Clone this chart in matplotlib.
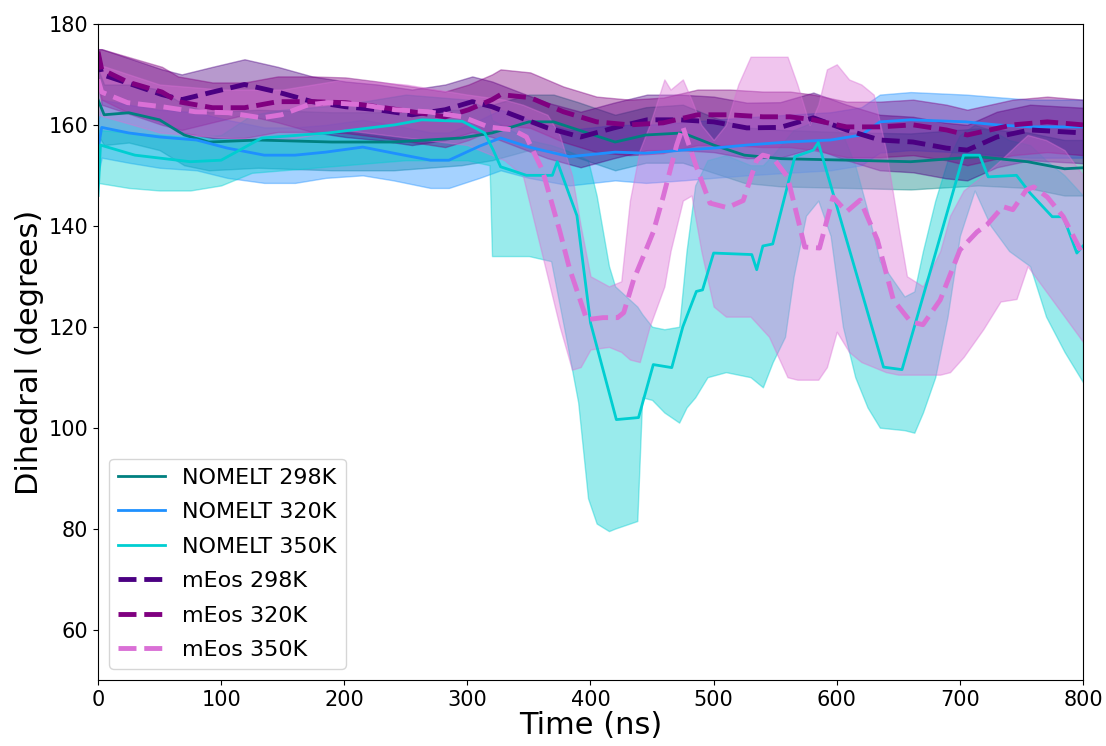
import numpy as np
import matplotlib
matplotlib.use("Agg")
import matplotlib.pyplot as plt

# --- NOMELT 298K ---
t_n298 = [0, 5, 25, 50, 70, 90, 130, 190, 240, 295, 320, 350, 370, 390, 420, 445, 475, 500,
          525, 555, 610, 660, 715, 755, 785, 800]
m_n298 = [165, 162, 162.4, 161, 158, 156.6, 157, 156.6, 156.6, 157.4, 158.4, 160.6, 160.6, 159,
          156.6, 158, 158.4, 156, 154, 153.3, 153, 152.7, 153.7, 152.7, 151.3, 151.5]
lo_n298 = [158, 156, 156.5, 155, 152, 151, 151.5, 151, 151, 152, 153, 155, 155, 153.5, 151,
           152.5, 152.5, 150.5, 148.5, 147.8, 147.5, 147.2, 148, 147.5, 146, 146]
hi_n298 = [171, 168, 168, 167, 164, 162.5, 163, 162.5, 162.5, 163, 164, 166, 166, 164.5, 162,
           163.5, 164, 161.5, 159.5, 159, 158.5, 158.3, 159.3, 158.5, 157, 157]

# --- NOMELT 320K ---
t_n320 = [0, 3, 25, 50, 80, 105, 135, 160, 185, 215, 240, 270, 285, 310, 327, 350, 383, 420,
          445, 475, 500, 527, 560, 595, 620, 635, 660, 705, 730, 757, 800]
m_n320 = [155, 159.5, 158.4, 157.6, 157, 155.4, 154, 154, 154.6, 155.6, 154.4, 153, 153, 155.8,
          157.4, 155.6, 153.7, 154.6, 154.4, 155, 155.4, 156, 156.6, 157, 158, 160.6, 161, 160.6,
          160, 159.6, 159.6]
lo_n320 = [150, 153.5, 152.5, 151.5, 151, 149.5, 148.5, 148.5, 149.5, 150, 149, 147.5, 147.5,
           149.5, 151, 149.5, 148, 149, 148.5, 149, 149.5, 150, 150.5, 151, 152, 154.5, 155,
           154.5, 154, 153.5, 153.5]
hi_n320 = [160, 165, 164, 163, 162.5, 161, 159.5, 159.5, 160, 161, 160, 158.5, 158.5, 161, 163,
           161, 159, 160, 160, 160.5, 161, 161.5, 162, 162.5, 163.5, 166, 166.5, 166, 165.5, 165,
           165]

# --- NOMELT 350K ---
t_n350 = [0, 2, 30, 75, 100, 133, 187, 241, 263, 296, 314, 321, 327, 348, 369, 373, 389, 400,
          421, 439, 451, 466, 475, 486, 491, 500, 531, 535, 540, 548, 566, 581, 585, 638, 653,
          678, 703, 716, 723, 746, 757, 775, 784, 795, 800]
m_n350 = [146, 156, 154, 152.7, 153, 157.4, 158.4, 160, 161, 160.7, 158.4, 155, 151.7, 150, 150,
          152.7, 142, 120.8, 101.6, 102, 112.5, 111.9, 120, 127, 127.3, 134.6, 134.3, 131.3, 136,
          136.4, 153.7, 155, 156.5, 112, 111.5, 132.7, 154, 154, 149.7, 150, 146.5, 141.8, 141.8,
          134.6, 136]
tb_n350 = [0, 25, 50, 75, 100, 125, 150, 200, 250, 300, 318, 320, 350, 368, 380, 390, 398, 405,
           415, 420, 438, 442, 450, 460, 472, 478, 485, 495, 510, 530, 540, 548, 558, 565, 575,
           585, 595, 605, 615, 625, 635, 655, 663, 670, 680, 690, 700, 712, 725, 740, 757, 770,
           785, 800]
lo_n350 = [148.5, 147.5, 147, 147, 148, 150.5, 151, 152, 153, 153, 152, 134, 134, 133, 118, 105,
           86, 81, 79.5, 80, 81.5, 106, 105.5, 103, 101, 104, 106, 110, 111, 110, 108, 113, 118,
           130, 142, 145, 138, 120, 110, 104, 100, 99.5, 99, 103, 110, 122, 138, 147, 140, 135,
           132, 122, 115, 109]
hi_n350 = [159, 158.5, 158, 157.5, 158, 162, 163, 164, 166, 165, 163, 161, 157, 156, 155, 154,
           153, 146, 132, 128, 124, 122.5, 120, 119.5, 120, 135, 148, 153, 154, 152, 152, 154,
           157, 159, 160, 161, 160, 158, 152, 143, 133, 126, 127, 135, 145, 153, 158, 160, 159,
           157, 156, 153, 150, 146]

# --- mEos 298K ---
t_m298 = [0, 3, 24, 52, 68, 93, 119, 146, 174, 201, 227, 255, 282, 304, 320, 337, 365, 392, 419,
          446, 473, 500, 527, 554, 581, 608, 635, 662, 689, 706, 730, 757, 800]
m_m298 = [174, 170, 168.3, 166, 165, 166.5, 168, 166.5, 164.6, 163.6, 163, 162, 163, 164.6,
          163.6, 162, 159.4, 157.6, 159.4, 161, 161, 160.6, 159.4, 159.5, 161.4, 159, 157, 156.6,
          155.4, 155, 157.6, 159, 158.4]
lo_m298 = [168, 164, 162.3, 160, 159, 160.5, 162, 160.5, 158.6, 157.6, 157, 156, 157, 158.6,
           157.6, 156, 153.4, 151.6, 153.4, 155, 155, 154.6, 153.4, 153.5, 155.4, 153, 151, 150.6,
           149.4, 149, 151.6, 153, 152.4]
hi_m298 = [175, 175, 173.3, 171, 170, 171.5, 173, 171.5, 169.6, 168.6, 168, 167, 168, 169.6,
           168.6, 167, 164.4, 162.6, 164.4, 166, 166, 165.6, 164.4, 164.5, 166.4, 164, 162, 161.6,
           160.4, 160, 162.6, 164, 163.4]

# --- mEos 320K ---
t_m320 = [0, 3, 24, 52, 65, 93, 119, 146, 174, 201, 227, 255, 282, 301, 320, 327, 351, 378, 405,
          432, 459, 487, 513, 540, 562, 581, 608, 635, 662, 689, 706, 743, 771, 800]
m_m320 = [174.5, 171, 168.5, 166.5, 164.6, 163.4, 163.4, 164.6, 164.6, 164.4, 163.6, 162.6,
          161.6, 163, 165, 166, 165.4, 162.6, 160.6, 160, 160.4, 162, 162, 161.6, 161.6, 161,
          159.6, 159.6, 160, 159, 158, 160, 160.6, 160]
lo_m320 = [168.5, 165, 162.5, 160.5, 158.6, 157.4, 157.4, 158.6, 158.6, 158.4, 157.6, 156.6,
           155.6, 157, 159, 160, 159.4, 156.6, 154.6, 154, 154.4, 156, 156, 155.6, 155.6, 155,
           153.6, 153.6, 154, 153, 152, 154, 154.6, 154]
hi_m320 = [175, 175, 173.5, 171.5, 169.6, 168.4, 168.4, 169.6, 169.6, 169.4, 168.6, 167.6,
           166.6, 168, 170, 171, 170.4, 167.6, 165.6, 165, 165.4, 167, 167, 166.6, 166.6, 166,
           164.6, 164.6, 165, 164, 163, 165, 165.6, 165]

# --- mEos 350K ---
t_m350 = [0, 3, 24, 52, 79, 106, 133, 149, 171, 187, 214, 241, 268, 296, 317, 337, 348, 361,
          375, 383, 397, 410, 422, 427, 435, 443, 451, 459, 470, 475, 486, 497, 511, 524, 535,
          540, 548, 560, 570, 574, 586, 597, 608, 619, 633, 646, 660, 670, 684, 700, 714, 722,
          735, 743, 754, 760, 771, 784, 795, 800]
m_m350 = [169, 166.5, 164.4, 163.6, 162.6, 162.4, 161.4, 162, 164, 164.4, 164, 163, 162.6,
          161.6, 159.6, 159, 157.6, 151, 139, 131.5, 121.4, 121.8, 121.8, 122.8, 129.3, 134,
          138.8, 145.7, 156, 159.6, 151.7, 144.5, 143.6, 145, 153, 154, 153.5, 149.7, 139.8,
          135.8, 135.6, 145.7, 142.8, 145.1, 137.2, 125.3, 121, 120.4, 125.3, 135.2, 138.8,
          140.2, 143.8, 143.2, 147.1, 147.7, 145.7, 141.8, 136.6, 134.3]
tb_m350 = [0, 50, 100, 150, 200, 250, 300, 330, 345, 355, 365, 375, 385, 392, 400, 415, 425,
           432, 440, 448, 460, 465, 475, 482, 490, 500, 510, 520, 530, 545, 560, 568, 578, 585,
           592, 600, 610, 620, 630, 640, 650, 657, 670, 684, 692, 703, 719, 733, 746, 755, 770,
           785, 800]
lo_m350 = [162, 158.5, 157.5, 157, 159, 157.5, 156, 153, 150, 140, 130, 120, 111.5, 112, 115.5,
           116, 115, 113.5, 113, 120, 128, 135, 145, 146, 135, 124, 122, 122, 122, 118, 110,
           109.5, 109.5, 109.5, 112, 119, 115, 113, 112, 111, 110.5, 110.5, 110.5, 110.5, 111,
           114, 119.5, 125, 125.5, 132, 127, 122, 117]
hi_m350 = [172, 168, 167, 167, 169, 168, 166, 165, 164, 163, 162, 158, 150, 140, 130, 128, 129,
           145, 155, 160, 169, 167, 169, 165, 160, 157, 160, 168, 173.5, 173.5, 173.5, 168, 160,
           164, 171, 172, 169, 168, 166, 155, 140, 130, 128, 135, 142, 147, 150, 153, 156, 158,
           157, 155, 150]

labels = ["NOMELT 298K", "NOMELT 320K", "NOMELT 350K", "mEos 298K", "mEos 320K", "mEos 350K"]
colors = ["teal", "dodgerblue", "darkturquoise", "indigo", "purple", "orchid"]

series = [
    (t_n298, m_n298, t_n298, lo_n298, hi_n298),
    (t_n320, m_n320, t_n320, lo_n320, hi_n320),
    (t_n350, m_n350, tb_n350, lo_n350, hi_n350),
    (t_m298, m_m298, t_m298, lo_m298, hi_m298),
    (t_m320, m_m320, t_m320, lo_m320, hi_m320),
    (t_m350, m_m350, tb_m350, lo_m350, hi_m350),
]

fig = plt.figure(figsize=(11.06, 7.46), dpi=100)
ax = fig.add_axes([0.0886, 0.0885, 0.8906, 0.8794])

for i, (t, m, tb, lo, hi) in enumerate(series):
    ax.fill_between(tb, lo, hi, color=colors[i], alpha=0.4)
    if labels[i].startswith("mEos"):
        ax.plot(t, m, color=colors[i], lw=3.5, ls="--", label=labels[i])
    else:
        ax.plot(t, m, color=colors[i], lw=2, label=labels[i])

ax.set_xlim(0, 800)
ax.set_ylim(50, 180)
ax.set_yticks(np.arange(60, 181, 20))
ax.set_xticks(np.arange(0, 801, 100))
ax.tick_params(labelsize=15)
ax.set_xlabel("Time (ns)", fontsize=22, labelpad=1)
ax.set_ylabel("Dihedral (degrees)", fontsize=22, labelpad=3)
ax.legend(loc="lower left", fontsize=16, labelspacing=0.65, handlelength=2.1)

fig.savefig("out.png", dpi=100)
